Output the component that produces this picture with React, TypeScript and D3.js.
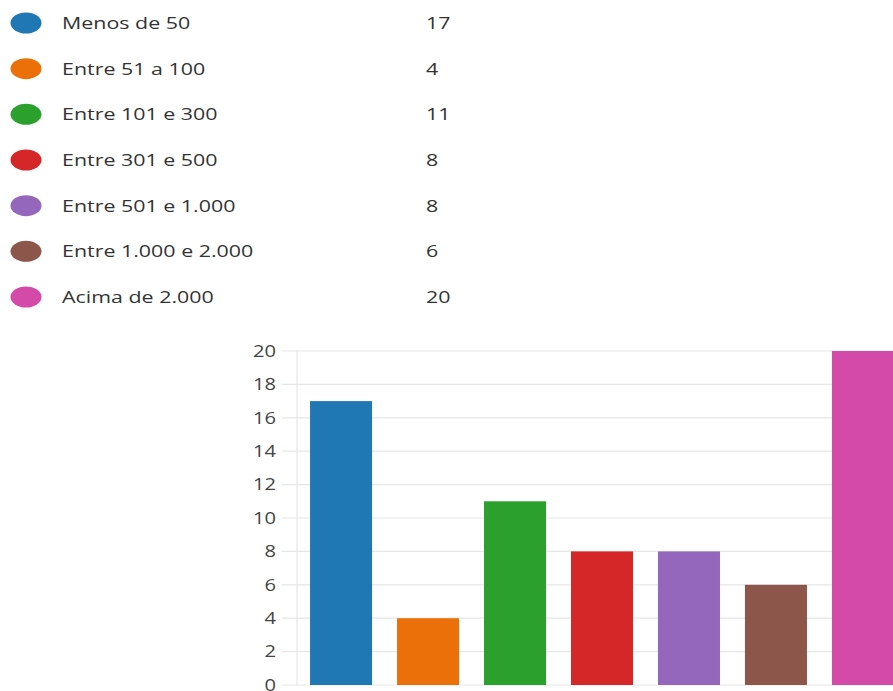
import React from "react";
import * as d3 from "d3";

const categories = [
  "Menos de 50",
  "Entre 51 a 100",
  "Entre 101 e 300",
  "Entre 301 e 500",
  "Entre 501 e 1.000",
  "Entre 1.000 e 2.000",
  "Acima de 2.000",
];
const values = [17, 4, 11, 8, 8, 6, 20];
const colors = ["#1f77b4", "#ec700a", "#2ca02c", "#d62728", "#9467bd", "#8c564b", "#d34aa9"];
const yTicks = [0, 2, 4, 6, 8, 10, 12, 14, 16, 18, 20];

const W = 893;
const H = 691;
const SX = 1.26;

export default function App() {
  const x = d3
    .scaleBand<string>()
    .domain(categories)
    .range([297, 907])
    .paddingInner(0.287)
    .paddingOuter(0.15);
  const y = d3.scaleLinear().domain([0, 20]).range([685, 351]);
  const legendY = d3.scalePoint<string>().domain(categories).range([23, 297]);
  const font = "'Open Sans', 'Noto Sans', sans-serif";

  return (
    <svg
      width={W}
      height={H}
      style={{ position: "absolute", left: 0, top: 0, background: "#fff" }}
      fontFamily={font}
    >
      {categories.map((c, i) => {
        const cy = legendY(c)!;
        return (
          <g key={c}>
            <ellipse cx={26} cy={cy} rx={15.5} ry={10.5} fill={colors[i]} />
            <g transform={`translate(62,${cy}) scale(${SX},1)`}>
              <text dy="0.35em" fontSize={17} fill="#333">
                {c}
              </text>
            </g>
            <g transform={`translate(426,${cy}) scale(${SX},1)`}>
              <text dy="0.35em" fontSize={17} fill="#333">
                {values[i]}
              </text>
            </g>
          </g>
        );
      })}
      {yTicks.map((t) => (
        <g key={t}>
          <line x1={282} x2={W} y1={y(t)} y2={y(t)} stroke="#e6e6e6" strokeWidth={1.2} />
          <g transform={`translate(276,${y(t)}) scale(1.22,1)`}>
            <text dy="0.35em" textAnchor="end" fontSize={16.5} fill="#444">
              {t}
            </text>
          </g>
        </g>
      ))}
      <line x1={297} x2={297} y1={y(20)} y2={y(0)} stroke="#e6e6e6" strokeWidth={1.2} />
      {categories.map((c, i) => (
        <rect
          key={c}
          x={x(c)}
          y={y(values[i])}
          width={x.bandwidth()}
          height={y(0) - y(values[i])}
          fill={colors[i]}
        />
      ))}
    </svg>
  );
}
